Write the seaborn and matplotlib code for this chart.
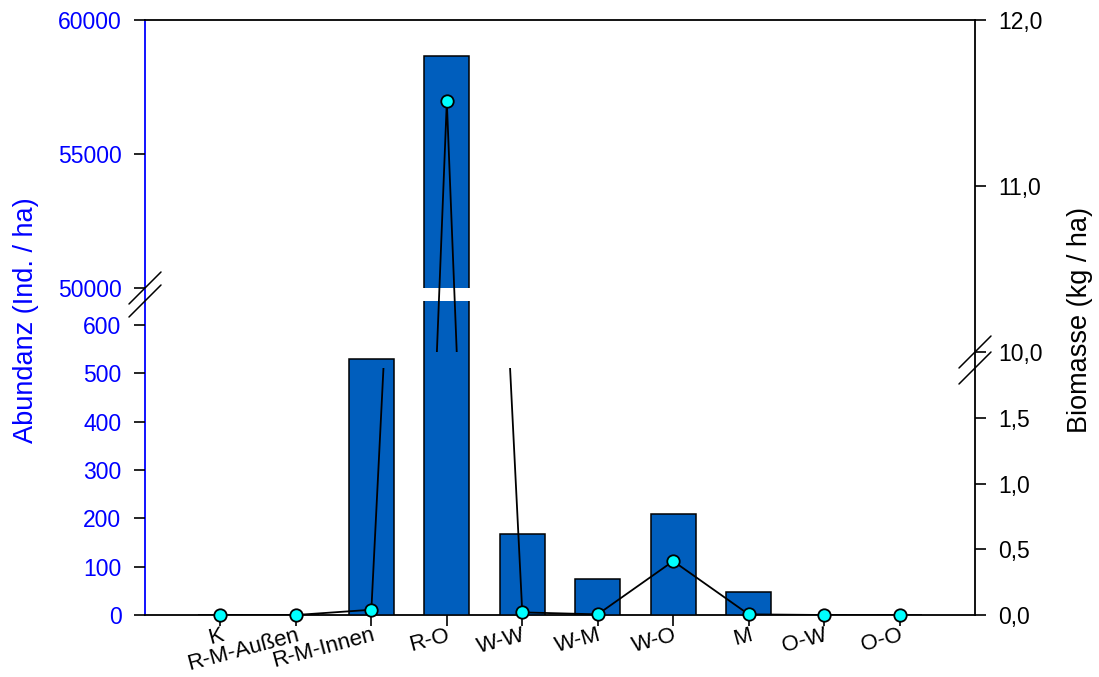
import numpy as np
import pandas as pd
import matplotlib
matplotlib.use("Agg")
import matplotlib.pyplot as plt
from matplotlib.lines import Line2D
import seaborn as sns

# --- data -------------------------------------------------------------
categories = ["K", "R-M-Außen", "R-M-Innen", "R-O", "W-W", "W-M", "W-O", "M", "O-W", "O-O"]
abundanz = [0, 0, 530, 58650, 168, 75, 210, 47, 0, 0]          # Ind. / ha
biomasse = [0.0, 0.0, 0.04, 11.51, 0.02, 0.005, 0.41, 0.005, 0.0, 0.0]  # kg / ha

abund_low_ticks = [0, 100, 200, 300, 400, 500, 600]
abund_high_ticks = [50000, 55000, 60000]
bio_low_ticks = [0.0, 0.5, 1.0, 1.5]
bio_low_labels = ["0,0", "0,5", "1,0", "1,5"]
bio_high_ticks = [10.0, 11.0, 12.0]
bio_high_labels = ["10,0", "11,0", "12,0"]

# axis ranges of the broken scales
abund_low_lim = (0, 650)
abund_high_lim = (50000, 60000)
bio_low_lim = (0, 1.88)
bio_high_lim = (10.0, 12.0)

df = pd.DataFrame({"Kategorie": categories, "Abundanz": abundanz,
                   "Biomasse": biomasse, "pos": np.arange(len(categories))})

# --- style ------------------------------------------------------------
sns.set_theme(style="white")
plt.rcParams["font.family"] = ["Liberation Sans", "DejaVu Sans"]
plt.rcParams["text.color"] = "black"

BAR = "#005EBD"
BLUE = "#0000FF"
CYAN = "#00FFFF"
TICK_FS = 16.5
XTICK_FS = 16
LABEL_FS = 19.5

W, H = 1099, 677
fig = plt.figure(figsize=(W / 100, H / 100), dpi=100)


def rect(x0, x1, ytop, ybot):
    return [x0 / W, 1 - ybot / H, (x1 - x0) / W, (ybot - ytop) / H]


X0, X1 = 145, 975

# frame carrying the continuous spines
frame = fig.add_axes(rect(X0, X1, 20, 615))
frame.set_xticks([])
frame.set_yticks([])
frame.patch.set_visible(False)
for s in frame.spines.values():
    s.set_visible(True)
    s.set_color("black")
    s.set_linewidth(1.3)
frame.spines["left"].set_color(BLUE)

ax_lo = fig.add_axes(rect(X0, X1, 301, 615))
ax_hi = fig.add_axes(rect(X0, X1, 20, 288))
bx_lo = fig.add_axes(rect(X0, X1, 368, 615))
bx_hi = fig.add_axes(rect(X0, X1, 20, 352))

for ax in (ax_lo, ax_hi, bx_lo, bx_hi):
    ax.patch.set_visible(False)
    for s in ax.spines.values():
        s.set_visible(False)

# --- bars (Abundanz, left scale) -------------------------------------
for ax, lim, ticks in ((ax_lo, abund_low_lim, abund_low_ticks),
                       (ax_hi, abund_high_lim, abund_high_ticks)):
    sns.barplot(data=df, x="Kategorie", y="Abundanz", ax=ax, color=BAR,
                saturation=1, edgecolor="black", linewidth=1.1, width=0.6)
    ax.set_xlim(-1, len(categories))
    ax.set_ylim(*lim)
    ax.set_yticks(ticks)
    ax.set_yticklabels([str(t) for t in ticks])
    ax.set_xlabel("")
    ax.set_ylabel("")
    ax.tick_params(axis="y", which="both", left=True, right=False, direction="out",
                   length=8, width=1.2, color="black", labelcolor=BLUE,
                   labelsize=TICK_FS, pad=9)

ax_hi.tick_params(axis="x", bottom=False, labelbottom=False)
ax_lo.tick_params(axis="x", bottom=True, direction="out", length=8, width=1.2,
                  color="black", labelcolor="black", labelsize=XTICK_FS, pad=-1)
plt.setp(ax_lo.get_xticklabels(), rotation=15, ha="right", rotation_mode="anchor")

# --- line (Biomasse, right scale) ------------------------------------
for ax, lim, ticks, labels in ((bx_lo, bio_low_lim, bio_low_ticks, bio_low_labels),
                               (bx_hi, bio_high_lim, bio_high_ticks, bio_high_labels)):
    sns.lineplot(data=df, x="pos", y="Biomasse", ax=ax, color="black",
                 linewidth=1.3, sort=False, estimator=None, zorder=3)
    shown = df[(df["Biomasse"] >= lim[0]) & (df["Biomasse"] <= lim[1])]
    sns.scatterplot(data=shown, x="pos", y="Biomasse", ax=ax, color=CYAN,
                    edgecolor="black", linewidth=1.3, s=80, clip_on=False,
                    zorder=5)
    ax.set_xlim(-1, len(categories))
    ax.set_ylim(*lim)
    ax.set_xlabel("")
    ax.set_ylabel("")
    ax.tick_params(axis="x", bottom=False, labelbottom=False)
    ax.yaxis.tick_right()
    ax.set_yticks(ticks)
    ax.set_yticklabels(labels)
    ax.tick_params(axis="y", which="both", right=True, left=False, direction="out",
                   length=8, width=1.2, color="black", labelcolor="black",
                   labelsize=TICK_FS, pad=9)

# --- break marks -------------------------------------------------------
def slash(cx, cy, half=16):
    fig.add_artist(Line2D([(cx - half) / W, (cx + half) / W],
                          [1 - (cy + half) / H, 1 - (cy - half) / H],
                          color="black", linewidth=1.1))


for cy in (288, 301):
    slash(X0, cy)
for cy in (352, 368):
    slash(X1, cy)

# --- axis titles -------------------------------------------------------
fig.text(26 / W, 1 - 320 / H, "Abundanz (Ind. / ha)", rotation=90, color=BLUE,
         fontsize=LABEL_FS, ha="center", va="center")
fig.text(1080 / W, 1 - 320 / H, "Biomasse (kg / ha)", rotation=90, color="black",
         fontsize=LABEL_FS, ha="center", va="center")

fig.savefig("out.png", dpi=100)
